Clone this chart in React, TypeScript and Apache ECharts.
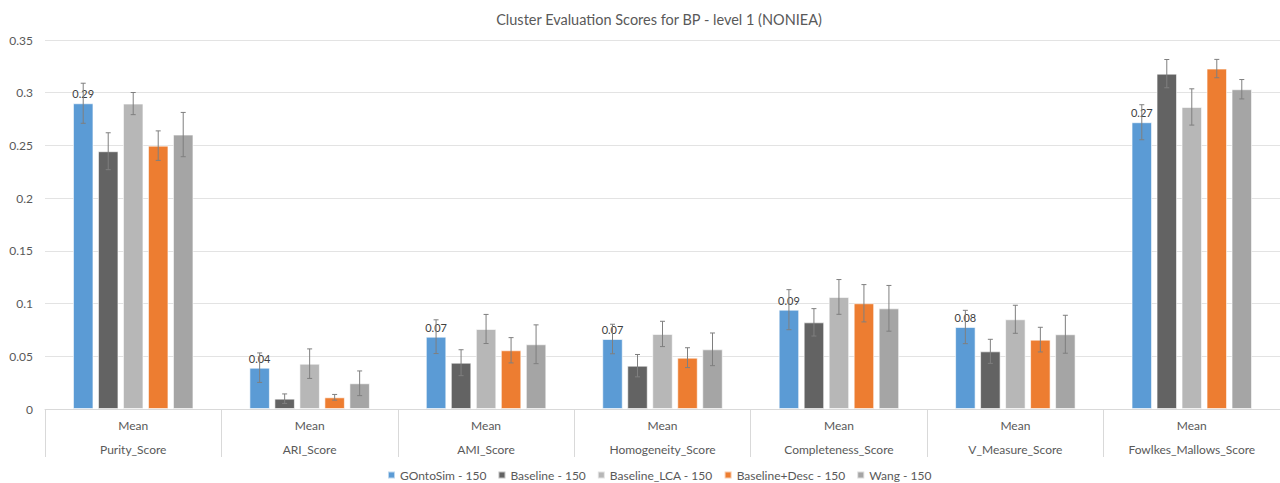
import React, { useEffect, useRef } from "react";
import * as echarts from "echarts";

const categories = [
  "Purity_Score",
  "ARI_Score",
  "AMI_Score",
  "Homogeneity_Score",
  "Completeness_Score",
  "V_Measure_Score",
  "Fowlkes_Mallows_Score",
];

const seriesNames = [
  "GOntoSim - 150",
  "Baseline - 150",
  "Baseline_LCA - 150",
  "Baseline+Desc - 150",
  "Wang - 150",
];

const gontosim = [0.29, 0.0392, 0.0686, 0.0664, 0.0942, 0.0778, 0.272];
const baseline = [0.2445, 0.0098, 0.0439, 0.0411, 0.0822, 0.0547, 0.3181];
const baselineLCA = [0.2897, 0.043, 0.0759, 0.0712, 0.1063, 0.0851, 0.2865];
const baselineDesc = [0.2498, 0.0111, 0.0557, 0.0487, 0.1003, 0.0658, 0.3229];
const wang = [0.2603, 0.0244, 0.0614, 0.0566, 0.0955, 0.0709, 0.3033];

const gontosimErr = [0.019, 0.014, 0.016, 0.014, 0.019, 0.0158, 0.0166];
const baselineErr = [0.0175, 0.0045, 0.0123, 0.0106, 0.013, 0.0114, 0.0134];
const baselineLCAErr = [0.0105, 0.014, 0.0138, 0.012, 0.0165, 0.0133, 0.0172];
const baselineDescErr = [0.014, 0.0027, 0.012, 0.0094, 0.0177, 0.0117, 0.0087];
const wangErr = [0.021, 0.0117, 0.0184, 0.0155, 0.0217, 0.018, 0.0092];

const yTicks = [0, 0.05, 0.1, 0.15, 0.2, 0.25, 0.3, 0.35];

const colors = ["#5B9BD5", "#636363", "#B7B7B7", "#ED7D31", "#A5A5A5"];

const FONT = "Lato, 'Open Sans', sans-serif";
const BAR_W = 20.5;
const BAR_GAP = 4.5;

export default function App() {
  const ref = useRef<HTMLDivElement>(null);

  useEffect(() => {
    if (!ref.current) return;
    const chart = echarts.init(ref.current, null, { renderer: "svg" });
    const values = [gontosim, baseline, baselineLCA, baselineDesc, wang];
    const errs = [gontosimErr, baselineErr, baselineLCAErr, baselineDescErr, wangErr];
    const n = values.length;

    const barSeries = values.map((vals, si) => ({
      name: seriesNames[si],
      type: "bar",
      xAxisIndex: 0,
      data: vals,
      barWidth: BAR_W,
      barGap: (BAR_GAP / BAR_W) * 100 + "%",
      itemStyle: { color: colors[si], borderColor: "rgba(255,255,255,0.6)", borderWidth: 1 },
      label:
        si === 0
          ? {
              show: true,
              position: "top",
              distance: 4,
              fontFamily: FONT,
              fontSize: 11,
              color: "#404040",
              formatter: (p: any) => Number(p.value).toFixed(2),
            }
          : { show: false },
      z: 2,
    }));

    const errSeries = values.map((vals, si) => ({
      name: seriesNames[si] + " err",
      type: "custom",
      xAxisIndex: 0,
      silent: true,
      z: 5,
      data: vals.map((v, ci) => [ci, v - errs[si][ci], v + errs[si][ci]]),
      encode: { x: 0, y: [1, 2] },
      renderItem: (params: any, api: any) => {
        const ci = api.value(0);
        const lo = api.coord([ci, api.value(1)]);
        const hi = api.coord([ci, api.value(2)]);
        const off = (si - (n - 1) / 2) * (BAR_W + BAR_GAP);
        const x = lo[0] + off;
        const cap = 2.5;
        const style = { stroke: "#7F7F7F", lineWidth: 1 };
        return {
          type: "group",
          children: [
            { type: "line", shape: { x1: x, y1: lo[1], x2: x, y2: hi[1] }, style },
            { type: "line", shape: { x1: x - cap, y1: lo[1], x2: x + cap, y2: lo[1] }, style },
            { type: "line", shape: { x1: x - cap, y1: hi[1], x2: x + cap, y2: hi[1] }, style },
          ],
        };
      },
    }));

    chart.setOption({
      animation: false,
      backgroundColor: "#ffffff",
      title: {
        text: "Cluster Evaluation Scores for BP - level 1 (NONIEA)",
        left: 654,
        textAlign: "center",
        top: 7,
        textStyle: { fontFamily: FONT, fontSize: 14.5, fontWeight: "normal", color: "#595959" },
      },
      legend: {
        data: seriesNames,
        top: 469,
        left: 387,
        padding: 0,
        itemWidth: 7,
        itemHeight: 7,
        itemGap: 11,
        icon: "rect",
        textStyle: { fontFamily: FONT, fontSize: 12, color: "#595959" },
      },
      grid: { left: 45, top: 40, width: 1248, bottom: 74, containLabel: false },
      xAxis: [
        {
          type: "category",
          data: categories,
          position: "bottom",
          axisLine: { show: true, lineStyle: { color: "#D9D9D9" } },
          axisTick: { show: true, length: 48, lineStyle: { color: "#D9D9D9" } },
          axisLabel: {
            formatter: () => "Mean",
            margin: 10,
            fontFamily: FONT,
            fontSize: 12,
            color: "#595959",
          },
        },
        {
          type: "category",
          data: categories,
          position: "bottom",
          offset: 24,
          axisLine: { show: false },
          axisTick: { show: false },
          axisLabel: { margin: 10, fontFamily: FONT, fontSize: 12, color: "#595959" },
        },
      ],
      yAxis: {
        type: "value",
        min: yTicks[0],
        max: yTicks[yTicks.length - 1],
        interval: 0.05,
        axisLine: { show: false },
        axisTick: { show: false },
        splitLine: { lineStyle: { color: "#E3E3E3" } },
        axisLabel: {
          margin: 12,
          fontFamily: FONT,
          fontSize: 12,
          color: "#595959",
          formatter: (v: number) => String(+v.toFixed(2)),
        },
      },
      series: [...barSeries, ...errSeries],
    });
    return () => chart.dispose();
  }, []);

  return (
    <div
      ref={ref}
      style={{ position: "fixed", left: 0, top: 0, width: 1280, height: 483, overflow: "hidden" }}
    />
  );
}
